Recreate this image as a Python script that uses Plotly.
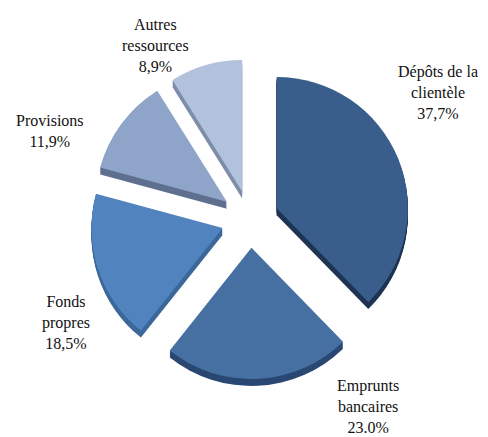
import plotly.graph_objects as go

# Structure des ressources
categories = ["Dépôts de la clientèle", "Emprunts bancaires", "Fonds propres",
              "Provisions", "Autres ressources"]
values = [37.7, 23.0, 18.5, 11.9, 8.9]
label_texts = ["Dépôts de la<br>clientèle<br>37,7%",
               "Emprunts<br>bancaires<br>23.0%",
               "Fonds<br>propres<br>18,5%",
               "Provisions<br>11,9%",
               "Autres<br>ressources<br>8,9%"]

top_colors = ["#3A5E8B", "#4670A1", "#5184BE", "#8FA4C9", "#B3C2DC"]
side_colors = ["#1E3452", "#2A4872", "#3C6899", "#5F7090", "#7E8DAA"]
label_pos = [(438, 93), (368, 406), (66, 322), (50, 131), (155, 45)]  # pixel centres

W, H = 488, 437
SERIF = "Liberation Serif, Times New Roman, serif"
PULL = 0.22
DEPTH = 7  # thickness of the disc, px

# pie footprint in pixels: left, right, top, bottom
x0, x1, y0, y1 = 89, 411, 59, 379


def disc(colors, shift, hover):
    return go.Pie(
        labels=categories,
        values=values,
        sort=False,
        direction="clockwise",
        rotation=0,
        pull=[PULL] * len(values),
        marker=dict(colors=colors, line=dict(color=colors, width=0)),
        textinfo="none",
        hoverinfo="label+percent" if hover else "skip",
        domain=dict(x=[x0 / W, x1 / W],
                    y=[1 - (y1 + shift) / H, 1 - (y0 + shift) / H]),
        showlegend=False,
    )


fig = go.Figure()
# extruded side drawn first, then the top face
for s in range(DEPTH, 0, -1):
    fig.add_trace(disc(side_colors, s, False))
fig.add_trace(disc(top_colors, 0, True))

for txt, (px, py) in zip(label_texts, label_pos):
    fig.add_annotation(
        x=px / W, y=1 - py / H, xref="paper", yref="paper",
        text=txt, showarrow=False, align="center",
        xanchor="center", yanchor="middle",
        font=dict(family=SERIF, size=16, color="#111111"),
    )

fig.update_layout(
    width=W, height=H,
    margin=dict(l=0, r=0, t=0, b=0),
    paper_bgcolor="white",
    plot_bgcolor="white",
)

fig.write_html("out.html")
